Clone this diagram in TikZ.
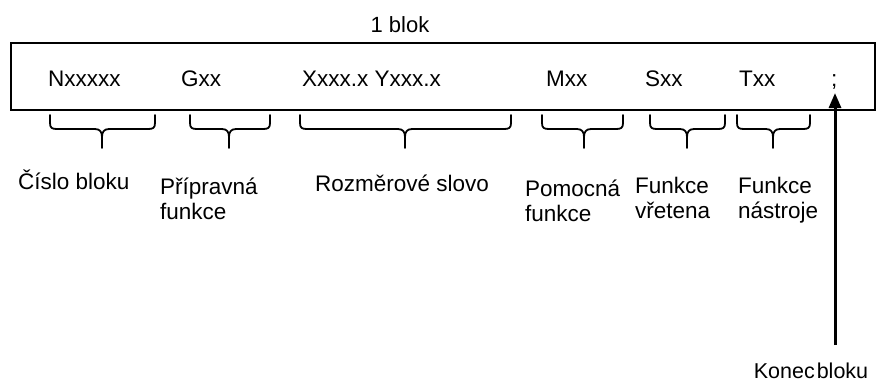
\documentclass[tikz,border=0pt]{standalone}
\usepackage{fontspec}
\setmainfont{Liberation Sans}
\usetikzlibrary{arrows.meta}

% curly brace under a field: left x, right x, tip x
\newcommand\fieldbrace[3]{%
  \draw[bracestyle] (#1,115) -- (#1,123)
    .. controls (#1,128) and (#1+2,129) .. (#1+7,129) -- (#3-7,129)
    .. controls (#3-2,129) and (#3,132) .. (#3,137) -- (#3,148);
  \draw[bracestyle] (#3,137)
    .. controls (#3,132) and (#3+2,129) .. (#3+7,129) -- (#2-7,129)
    .. controls (#2-2,129) and (#2,128) .. (#2,123) -- (#2,115);
}

\begin{document}
\begin{tikzpicture}[x=1pt,y=-1pt,
  frame/.style={draw=black,line width=1.8pt},
  bracestyle/.style={draw=black,line width=1.8pt,line cap=round,line join=round},
  field/.style={anchor=base west,inner sep=0pt,font=\fontsize{22.5}{27}\selectfont},
  label/.style={anchor=base west,inner sep=0pt,align=left,font=\fontsize{22.5}{25}\selectfont},
  pointer/.style={draw=black,line width=3pt,-{Triangle[width=12pt,length=15pt]}}]
  \useasboundingbox (0,0) rectangle (876,383);

  % the block
  \draw[frame] (11,43) rectangle (875,110);
  \node[anchor=base,inner sep=0pt,font=\fontsize{22}{26}\selectfont] (title) at (400,32) {1 blok};

  % words of the block
  \node[field] (n) at (48,86) {Nxxxxx};
  \node[field] (g) at (181,86) {Gxx};
  \node[field] (xy) at (302,86) {Xxxx.x Yxxx.x};
  \node[field] (m) at (546,86) {Mxx};
  \node[field] (s) at (645,86) {Sxx};
  \node[field] (t) at (739,86) {Txx};
  \node[field] (semi) at (831,86) {;};

  % braces
  \fieldbrace{50}{155}{102}
  \fieldbrace{190}{270}{229}
  \fieldbrace{300}{511}{405}
  \fieldbrace{542}{623}{584}
  \fieldbrace{650}{725}{687}
  \fieldbrace{737}{810}{773}

  % descriptions (two-line nodes sit on the baseline of their last line)
  \node[label] (ln) at (18,189) {Číslo bloku};
  \node[label] (lg) at (160,219) {Přípravná\\funkce};
  \node[label] (lxy) at (315,191) {Rozměrové slovo};
  \node[label] (lm) at (525,221) {Pomocná\\funkce};
  \node[label] (ls) at (635,218) {Funkce\\vřetena};
  \node[label] (lt) at (738,218) {Funkce\\nástroje};

  % end of block
  \node[anchor=base,inner sep=0pt,font=\fontsize{21.5}{26}\selectfont] (konec) at (811,378) {Konec\hspace{2pt}bloku};
  \coordinate (tail) at (835,345);
  \coordinate (head) at (835,93);
  \draw[pointer] (tail) -- (head);
\end{tikzpicture}
\end{document}
